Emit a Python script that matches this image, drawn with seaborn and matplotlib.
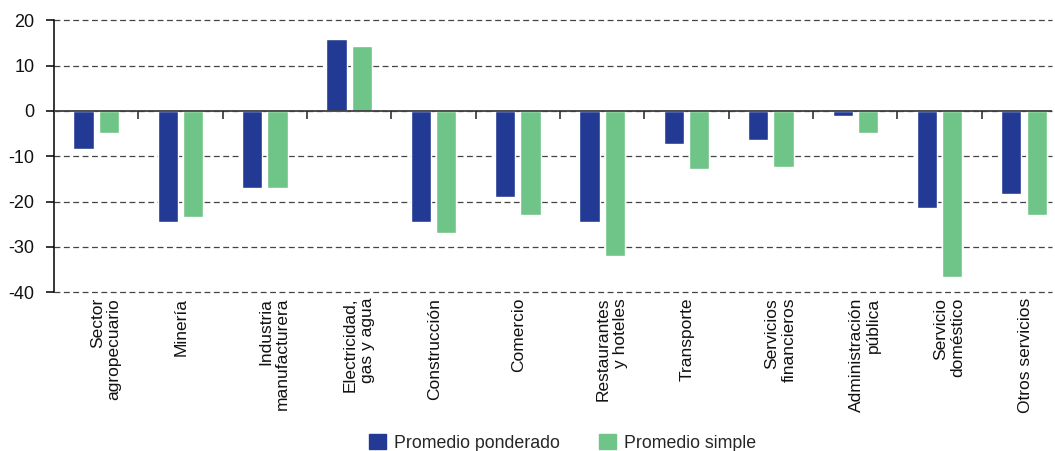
import numpy as np
import pandas as pd
import matplotlib
matplotlib.use('Agg')
import matplotlib.pyplot as plt
import matplotlib.transforms as mtransforms
import seaborn as sns

# Variacion por sector: promedio ponderado vs promedio simple
sectores = ['Sector\nagropecuario', 'Minería', 'Industria\nmanufacturera',
            'Electricidad,\ngas y agua', 'Construcción', 'Comercio',
            'Restaurantes\ny hoteles', 'Transporte', 'Servicios\nfinancieros',
            'Administración\npública', 'Servicio\ndoméstico', 'Otros servicios']
promedio_ponderado = [-8.3, -24.4, -16.9, 15.9, -24.4, -18.9,
                      -24.4, -7.3, -6.3, -1.2, -21.5, -18.4]
promedio_simple = [-4.8, -23.5, -16.9, 14.3, -27.0, -22.9,
                   -32.1, -12.9, -12.4, -4.8, -36.7, -22.9]
series = ['Promedio ponderado', 'Promedio simple']
colores = ['#233A94', '#6FC487']
yticks = [-40, -30, -20, -10, 0, 10, 20]

df = pd.DataFrame({
    'sector': sectores * 2,
    'valor': promedio_ponderado + promedio_simple,
    'serie': [series[0]] * len(sectores) + [series[1]] * len(sectores),
})

sns.set_style('white')
plt.rcParams['font.family'] = ['Liberation Sans', 'DejaVu Sans']

fig = plt.figure(figsize=(10.55, 4.51), dpi=100)
ax = fig.add_axes([0.0512, 0.352, 0.9458, 0.603])

sns.barplot(data=df, x='sector', y='valor', hue='serie', palette=colores,
            errorbar=None, width=0.6, gap=0.2, saturation=1, ax=ax, zorder=3)

ax.set_ylim(-40, 20)
ax.set_xlim(-0.5, 11.33)
ax.set_yticks(yticks)
ax.set_yticklabels([str(v) for v in yticks])

# dashed grid, drawn unclipped so the edges at 20 and -40 show fully
for v in yticks:
    ax.axhline(v, color='#444444', linewidth=0.9, linestyle=(0, (4.7, 2.8)),
               zorder=1, clip_on=False)
ax.axhline(0, color='#404040', linewidth=1.3, zorder=4)
ax.vlines(np.arange(0.5, len(sectores) - 0.5, 1), -1.75, 0,
          color='#222222', linewidth=1.1, zorder=4)

for s in ['top', 'right', 'bottom']:
    ax.spines[s].set_visible(False)
ax.spines['left'].set_color('black')
ax.spines['left'].set_linewidth(1.1)

ax.tick_params(axis='y', left=True, length=6, width=1.1, color='black',
               pad=8, labelsize=13, labelcolor='#111111')
ax.tick_params(axis='x', bottom=False, length=0, pad=4)
ax.set_xlabel('')
ax.set_ylabel('')

ax.set_xticks(range(len(sectores)))
ax.set_xticklabels(sectores, rotation=90, ha='left', va='top',
                   multialignment='right', linespacing=1.15,
                   fontsize=12.5, color='#111111')
offset = mtransforms.ScaledTranslation(-0.065, 0, fig.dpi_scale_trans)
for lbl in ax.get_xticklabels():
    lbl.set_transform(lbl.get_transform() + offset)

ax.get_legend().remove()
handles = [plt.Rectangle((0, 0), 1, 1, color=c) for c in colores]
fig.legend(handles, series, loc='center', bbox_to_anchor=(0.533, 0.018),
           ncol=2, frameon=False, fontsize=12.8, handlelength=0.95,
           handleheight=0.9, handletextpad=0.45, columnspacing=2.2,
           borderpad=0)

fig.savefig('out.png', dpi=100)
